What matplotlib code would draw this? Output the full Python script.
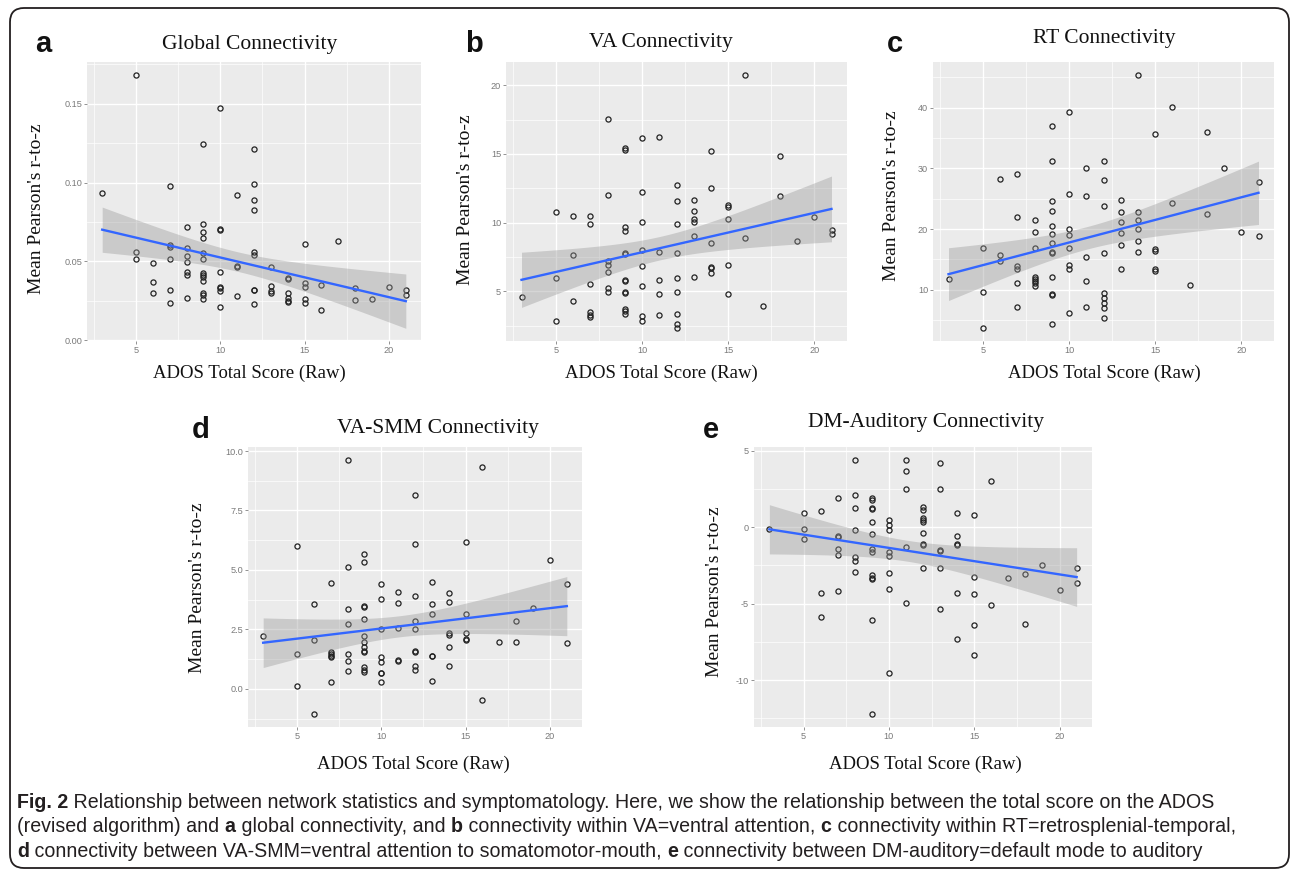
import numpy as np
import matplotlib
matplotlib.use("Agg")
import matplotlib.pyplot as plt
from matplotlib.patches import FancyBboxPatch
from matplotlib.transforms import IdentityTransform
from matplotlib.ticker import FixedLocator

# ---------------- data ----------------
xa = [5, 10, 9, 12, 7, 12, 3, 11, 12, 12,
      8, 9, 10, 10, 9, 9, 5, 5, 7, 7,
      7, 6, 8, 8, 8, 9, 9, 12, 12, 11,
      11, 13, 15, 17, 8, 8, 9, 9, 9, 9,
      10, 6, 6, 7, 7, 8, 9, 9, 9, 10,
      10, 10, 10, 11, 12, 12, 12, 13, 13, 13,
      14, 14, 14, 14, 14, 14, 15, 15, 15, 15,
      16, 16, 18, 18, 19, 20, 21, 21]
ya = [0.1685, 0.1473, 0.1244, 0.1212, 0.0977, 0.0990, 0.0937, 0.0924, 0.0892, 0.0829,
      0.0721, 0.0736, 0.0704, 0.0702, 0.0687, 0.0647, 0.0562, 0.0513, 0.0604, 0.0589,
      0.0515, 0.0492, 0.0583, 0.0536, 0.0496, 0.0551, 0.0513, 0.0562, 0.0543, 0.0473,
      0.0462, 0.0464, 0.0611, 0.0630, 0.0435, 0.0416, 0.0428, 0.0413, 0.0399, 0.0373,
      0.0435, 0.0367, 0.0297, 0.0322, 0.0235, 0.0267, 0.0299, 0.0286, 0.0261, 0.0337,
      0.0331, 0.0314, 0.0212, 0.0280, 0.0322, 0.0316, 0.0227, 0.0343, 0.0314, 0.0299,
      0.0396, 0.0386, 0.0303, 0.0271, 0.0246, 0.0240, 0.0363, 0.0339, 0.0259, 0.0235,
      0.0350, 0.0193, 0.0331, 0.0254, 0.0261, 0.0341, 0.0318, 0.0286]

xb = [16, 8, 10, 11, 9, 9, 14, 18, 12, 14,
      8, 10, 18, 12, 13, 13, 13, 13, 15, 15,
      15, 5, 6, 7, 7, 9, 9, 10, 12, 20,
      21, 21, 13, 14, 16, 19, 10, 11, 8, 8,
      8, 9, 9, 12, 6, 10, 14, 14, 14, 15,
      5, 7, 8, 8, 9, 9, 9, 9, 10, 11,
      11, 12, 12, 13, 15, 3, 6, 7, 7, 7,
      9, 9, 9, 10, 10, 11, 12, 12, 12, 5,
      17]
yb = [20.77, 17.51, 16.15, 16.27, 15.47, 15.26, 15.18, 14.82, 12.74, 12.52,
      11.99, 12.21, 11.97, 11.58, 11.68, 10.88, 10.25, 10.08, 11.27, 11.12,
      10.27, 10.81, 10.47, 10.52, 9.91, 9.67, 9.38, 10.08, 9.89, 10.42,
      9.50, 9.18, 9.02, 8.51, 8.87, 8.68, 8.02, 7.90, 7.20, 6.94,
      6.38, 7.78, 7.73, 7.76, 7.64, 6.84, 6.79, 6.69, 6.33, 6.94,
      5.97, 5.51, 5.24, 4.95, 5.85, 5.75, 4.93, 4.85, 5.39, 5.80,
      4.83, 5.94, 4.95, 6.04, 4.78, 4.61, 4.30, 3.50, 3.31, 3.16,
      3.74, 3.55, 3.33, 3.23, 2.82, 3.28, 3.36, 2.63, 2.31, 2.82,
      3.94]

xc = [14, 16, 10, 9, 15, 18, 9, 12, 11, 19,
      6, 7, 12, 21, 10, 11, 9, 13, 12, 16,
      9, 13, 14, 18, 7, 8, 9, 10, 13, 14,
      14, 8, 9, 10, 13, 20, 21, 9, 14, 13,
      5, 8, 10, 9, 9, 12, 14, 15, 15, 6,
      6, 11, 7, 7, 10, 10, 13, 15, 15, 3,
      8, 8, 8, 8, 8, 9, 7, 11, 17, 5,
      9, 9, 12, 12, 12, 12, 7, 11, 10, 12,
      9, 5]
yc = [45.43, 40.11, 39.24, 36.99, 35.72, 35.94, 31.23, 31.17, 30.02, 30.02,
      28.21, 29.14, 28.05, 27.72, 25.69, 25.47, 24.59, 24.81, 23.82, 24.26,
      22.89, 22.73, 22.78, 22.51, 21.90, 21.52, 20.48, 19.98, 21.19, 21.41,
      19.93, 19.43, 19.11, 19.05, 19.38, 19.54, 18.83, 17.68, 17.95, 17.30,
      16.91, 16.86, 16.91, 16.25, 16.03, 16.09, 16.14, 16.64, 16.42, 15.76,
      14.77, 15.32, 13.95, 13.40, 14.06, 13.40, 13.35, 13.35, 13.07, 11.81,
      12.14, 11.76, 11.37, 11.04, 10.66, 12.08, 11.15, 11.48, 10.71, 9.67,
      9.23, 9.20, 9.45, 8.57, 7.81, 7.04, 7.20, 7.20, 6.22, 5.34,
      4.35, 3.64]

xd = [8, 16, 12, 5, 12, 15, 9, 9, 8, 20,
      7, 10, 13, 21, 11, 14, 12, 10, 6, 11,
      13, 14, 9, 9, 8, 19, 13, 15, 9, 12,
      18, 8, 10, 12, 11, 3, 9, 6, 9, 14,
      14, 15, 15, 15, 17, 18, 21, 5, 7, 7,
      7, 7, 8, 8, 9, 9, 9, 10, 10, 11,
      11, 12, 12, 12, 12, 13, 13, 14, 14, 8,
      9, 9, 9, 10, 10, 10, 7, 13, 5, 16,
      6]
yd = [9.635, 9.33, 8.17, 6.00, 6.07, 6.18, 5.65, 5.35, 5.14, 5.42,
      4.44, 4.42, 4.49, 4.41, 4.07, 4.04, 3.92, 3.76, 3.55, 3.62,
      3.58, 3.67, 3.50, 3.43, 3.36, 3.41, 3.13, 3.16, 2.94, 2.84,
      2.84, 2.71, 2.50, 2.51, 2.57, 2.22, 2.21, 2.05, 1.95, 2.33,
      2.25, 2.33, 2.09, 2.05, 1.97, 1.98, 1.92, 1.47, 1.53, 1.47,
      1.39, 1.32, 1.46, 1.19, 1.77, 1.57, 1.54, 1.33, 1.11, 1.22,
      1.15, 1.59, 1.56, 0.98, 0.79, 1.39, 1.36, 1.77, 0.97, 0.74,
      0.91, 0.79, 0.69, 0.67, 0.65, 0.27, 0.27, 0.32, 0.10, -0.45,
      -1.07]

xe = [8, 11, 13, 11, 16, 11, 13, 8, 7, 9,
      9, 9, 9, 8, 6, 5, 12, 12, 12, 12,
      12, 14, 15, 9, 10, 10, 10, 3, 5, 5,
      8, 9, 12, 7, 7, 14, 14, 14, 12, 12,
      11, 9, 9, 10, 10, 13, 13, 7, 7, 8,
      8, 8, 12, 13, 19, 21, 18, 17, 9, 9,
      9, 10, 15, 21, 20, 10, 7, 6, 14, 15,
      11, 16, 13, 6, 9, 15, 18, 14, 15, 10,
      9]
ye = [4.39, 4.41, 4.21, 3.65, 3.03, 2.49, 2.51, 2.12, 1.94, 1.90,
      1.75, 1.24, 1.20, 1.24, 1.09, 0.90, 1.31, 1.11, 0.61, 0.50,
      0.37, 0.96, 0.79, 0.31, 0.44, 0.13, -0.17, -0.11, -0.09, -0.79,
      -0.17, -0.44, -0.39, -0.59, -0.66, -0.57, -1.11, -1.18, -1.11, -1.18,
      -1.31, -1.44, -1.62, -1.62, -1.90, -1.48, -1.53, -1.40, -1.83, -1.97,
      -2.21, -2.93, -2.69, -2.64, -2.47, -2.69, -3.06, -3.32, -3.12, -3.32,
      -3.41, -2.99, -3.28, -3.67, -4.08, -4.06, -4.17, -4.32, -4.30, -4.37,
      -4.93, -5.07, -5.37, -5.90, -6.09, -6.40, -6.31, -7.29, -8.36, -9.56,
      -12.23]

x_ticks = [5, 10, 15, 20]
x_minor = [2.5, 7.5, 12.5, 17.5]
ticks_a = [0.00, 0.05, 0.10, 0.15]
labels_a = ["0.00", "0.05", "0.10", "0.15"]
ticks_b = [5, 10, 15, 20]
labels_b = ["5", "10", "15", "20"]
ticks_c = [10, 20, 30, 40]
labels_c = ["10", "20", "30", "40"]
ticks_d = [0.0, 2.5, 5.0, 7.5, 10.0]
labels_d = ["0.0", "2.5", "5.0", "7.5", "10.0"]
ticks_e = [-10, -5, 0, 5]
labels_e = ["-10", "-5", "0", "5"]

titles = ["Global Connectivity", "VA Connectivity", "RT Connectivity",
          "VA-SMM Connectivity", "DM-Auditory Connectivity"]
letters = ["a", "b", "c", "d", "e"]
xlabel_text = "ADOS Total Score (Raw)"
ylabel_text = "Mean Pearson's r-to-z"

# ---------------- layout (pixels) ----------------
W, H = 1292, 873
fig = plt.figure(figsize=(W / 100, H / 100), dpi=100)
fig.patch.set_facecolor("white")

panels = [
    dict(x=xa, y=ya, ticks=ticks_a, labels=labels_a, rect=(87, 62, 421, 341),
         title_xy=(250, 44), letter_xy=(43, 44), yl_xy=(37, 209), xl_xy=(249, 373)),
    dict(x=xb, y=yb, ticks=ticks_b, labels=labels_b, rect=(506, 62, 847, 341),
         title_xy=(661, 42), letter_xy=(474, 44), yl_xy=(466, 200), xl_xy=(661, 373)),
    dict(x=xc, y=yc, ticks=ticks_c, labels=labels_c, rect=(933, 62, 1274, 341),
         title_xy=(1104, 38), letter_xy=(895, 44), yl_xy=(892, 196), xl_xy=(1104, 373)),
    dict(x=xd, y=yd, ticks=ticks_d, labels=labels_d, rect=(248, 447, 582, 727),
         title_xy=(438, 428), letter_xy=(201, 430), yl_xy=(197, 588), xl_xy=(413, 764)),
    dict(x=xe, y=ye, ticks=ticks_e, labels=labels_e, rect=(754, 447, 1092, 727),
         title_xy=(926, 422), letter_xy=(711, 430), yl_xy=(714, 592), xl_xy=(925, 764)),
]

serif = ["Liberation Serif", "DejaVu Serif"]
sans = ["Liberation Sans", "DejaVu Sans"]


def fx(px):
    return px / W


def fy(py):
    return 1 - py / H


T_CRIT = 1.99  # 95% two-sided t quantile, df ~ 78

for i, p in enumerate(panels):
    l, t, r, b = p["rect"]
    ax = fig.add_axes([fx(l), fy(b), (r - l) / W, (b - t) / H])
    x = np.asarray(p["x"], float)
    y = np.asarray(p["y"], float)

    # linear fit with 95% confidence band
    slope, icpt = np.polyfit(x, y, 1)
    xs = np.linspace(x.min(), x.max(), 80)
    n = len(x)
    resid = y - (slope * x + icpt)
    s = np.sqrt(np.sum(resid ** 2) / (n - 2))
    sxx = np.sum((x - x.mean()) ** 2)
    se = s * np.sqrt(1.0 / n + (xs - x.mean()) ** 2 / sxx)
    fit = slope * xs + icpt
    lo, hi = fit - T_CRIT * se, fit + T_CRIT * se

    ax.set_facecolor("#EBEBEB")
    for sp in ax.spines.values():
        sp.set_visible(False)

    ax.plot(x, y, "o", mfc="none", mec="#222222", ms=3.7, mew=0.9, zorder=3)
    ax.fill_between(xs, lo, hi, color="#999999", alpha=0.4, lw=0, zorder=4)
    ax.plot(xs, fit, color="#3366FF", lw=1.7, zorder=5)

    xr = x.max() - x.min()
    ax.set_xlim(x.min() - 0.05 * xr, x.max() + 0.05 * xr)
    ymin = min(y.min(), lo.min())
    ymax = max(y.max(), hi.max())
    yr = ymax - ymin
    ax.set_ylim(ymin - 0.05 * yr, ymax + 0.05 * yr)

    ax.set_xticks(x_ticks)
    ax.set_xticklabels([str(v) for v in x_ticks])
    ax.xaxis.set_minor_locator(FixedLocator(x_minor))
    ax.set_yticks(p["ticks"])
    ax.set_yticklabels(p["labels"])
    yt = p["ticks"]
    step = yt[1] - yt[0]
    ymins = [yt[0] - step / 2] + [v + step / 2 for v in yt]
    ax.yaxis.set_minor_locator(FixedLocator(ymins))

    ax.grid(True, which="major", color="white", lw=1.0)
    ax.grid(True, which="minor", color="white", lw=0.5)
    ax.set_axisbelow(True)
    ax.tick_params(which="major", length=2, width=0.6, color="#808080",
                   labelsize=6.6, labelcolor="#7A7A7A", pad=1.5)
    ax.tick_params(which="minor", length=0)
    for lab in ax.get_xticklabels() + ax.get_yticklabels():
        lab.set_family(sans)

    # texts placed in figure coordinates
    tx, ty = p["title_xy"]
    fig.text(fx(tx), fy(ty), titles[i], family=serif, fontsize=15.5,
             ha="center", va="center", color="#111111")
    lx, ly = p["letter_xy"]
    fig.text(fx(lx), fy(ly), letters[i], family=sans, fontsize=21,
             fontweight="bold", ha="center", va="center", color="#111111")
    yx, yy = p["yl_xy"]
    fig.text(fx(yx), fy(yy), ylabel_text, family=serif, fontsize=14,
             rotation=90, ha="center", va="center", color="#111111")
    xx, xy = p["xl_xy"]
    fig.text(fx(xx), fy(xy), xlabel_text, family=serif, fontsize=13.5,
             ha="center", va="center", color="#111111")

# ---------------- caption ----------------
cap_lines = [
    [("Fig. 2", True),
     (" Relationship between network statistics and symptomatology. Here, we show the relationship between the total score on the ADOS", False)],
    [("(revised algorithm) and ", False), ("a", True), (" global connectivity, and ", False),
     ("b", True), (" connectivity within VA=ventral attention, ", False), ("c", True),
     (" connectivity within RT=retrosplenial-temporal,", False)],
    [("d", True), (" connectivity between VA-SMM=ventral attention to somatomotor-mouth, ", False),
     ("e", True), (" connectivity between DM-auditory=default mode to auditory", False)],
]
cap_family = ["Liberation Sans", "DejaVu Sans"]
cap_baselines = [808, 832, 857]
cap_left = 17
target_width = 1195

renderer = fig.canvas.get_renderer()


def draw_line(segs, x0, ybase, size, draw=True):
    xcur = x0
    artists = []
    for txt, bold in segs:
        a = fig.text(fx(xcur), fy(ybase), txt, family=cap_family, fontsize=size,
                     fontweight="bold" if bold else "normal", ha="left",
                     va="baseline", color="#231F20")
        bb = a.get_window_extent(renderer=renderer)
        xcur += bb.width
        artists.append(a)
    if not draw:
        for a in artists:
            a.remove()
    return xcur - x0


w12 = draw_line(cap_lines[0], cap_left, cap_baselines[0], 12, draw=False)
cap_size = 12 * target_width / w12
for segs, yb_ in zip(cap_lines, cap_baselines):
    draw_line(segs, cap_left, yb_, cap_size)

# ---------------- rounded frame ----------------
frame = FancyBboxPatch((10, H - 868), 1279, 860,
                       boxstyle="round,pad=0,rounding_size=14",
                       transform=IdentityTransform(), fill=False,
                       lw=1.3, ec="#231F20")
fig.add_artist(frame)

fig.savefig("out.png", dpi=100)
